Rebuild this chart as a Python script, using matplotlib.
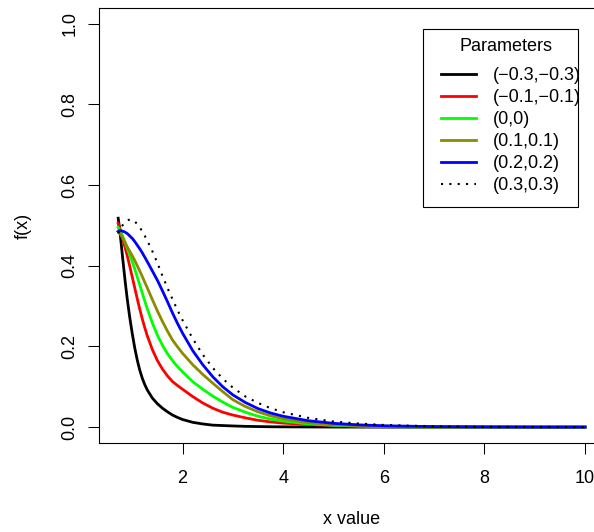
import matplotlib
matplotlib.use('Agg')
import matplotlib.pyplot as plt
from matplotlib.lines import Line2D
from matplotlib.patches import Rectangle
from matplotlib.legend_handler import HandlerLine2D

plt.rcParams['font.family'] = ['Liberation Sans', 'DejaVu Sans']

x_vals = [0.72, 0.74, 0.76, 0.78, 0.80, 0.83, 0.86, 0.90, 0.95, 1.0, 1.05, 1.1, 1.15, 1.2,
          1.25, 1.3, 1.4, 1.5, 1.6, 1.7, 1.8, 1.9, 2.0, 2.2, 2.4, 2.6, 2.8, 3.0, 3.25,
          3.5, 3.75, 4.0, 4.5, 5.0, 5.5, 6.0, 7.0, 8.0, 9.0, 10.0]

f_m03 = [0.518, 0.50, 0.478, 0.455, 0.43, 0.395, 0.36, 0.318, 0.272, 0.232, 0.196, 0.166,
         0.141, 0.121, 0.105, 0.092, 0.072, 0.058, 0.047, 0.038, 0.030, 0.024, 0.019,
         0.012, 0.008, 0.005, 0.004, 0.003, 0.002, 0.0015, 0.001, 0.0008, 0.0005, 0.0003,
         0.0002, 0.0001, 0.0, 0.0, 0.0, 0.0]
f_m01 = [0.505, 0.498, 0.49, 0.481, 0.472, 0.458, 0.444, 0.425, 0.399, 0.372, 0.345, 0.318,
         0.292, 0.268, 0.246, 0.226, 0.192, 0.165, 0.144, 0.127, 0.113, 0.103, 0.094,
         0.076, 0.060, 0.047, 0.037, 0.030, 0.023, 0.017, 0.013, 0.010, 0.0065, 0.0043,
         0.003, 0.002, 0.001, 0.0005, 0.0003, 0.0002]
f_00 = [0.495, 0.491, 0.487, 0.482, 0.476, 0.467, 0.457, 0.443, 0.427, 0.41, 0.392, 0.372,
        0.352, 0.332, 0.312, 0.293, 0.258, 0.228, 0.203, 0.182, 0.165, 0.15, 0.137,
        0.113, 0.094, 0.077, 0.062, 0.049, 0.037, 0.027, 0.020, 0.015, 0.008, 0.0045,
        0.0025, 0.0015, 0.0005, 0.0002, 0.0001, 0.0]
f_01 = [0.485, 0.482, 0.479, 0.475, 0.471, 0.464, 0.457, 0.447, 0.436, 0.425, 0.413, 0.40,
        0.387, 0.373, 0.359, 0.345, 0.316, 0.288, 0.262, 0.238, 0.216, 0.199, 0.183,
        0.155, 0.131, 0.109, 0.088, 0.068, 0.051, 0.038, 0.028, 0.021, 0.011, 0.006,
        0.0035, 0.002, 0.0008, 0.0003, 0.0001, 0.0]
f_02 = [0.485, 0.487, 0.487, 0.487, 0.486, 0.485, 0.483, 0.48, 0.474, 0.468, 0.46, 0.451,
        0.442, 0.432, 0.421, 0.41, 0.387, 0.364, 0.338, 0.311, 0.283, 0.257, 0.233,
        0.19, 0.155, 0.125, 0.10, 0.08, 0.061, 0.046, 0.035, 0.027, 0.016, 0.0095,
        0.0057, 0.0035, 0.0013, 0.0005, 0.0002, 0.0001]
f_03 = [0.48, 0.485, 0.49, 0.495, 0.499, 0.504, 0.508, 0.512, 0.515, 0.514, 0.51, 0.503,
        0.495, 0.485, 0.474, 0.462, 0.436, 0.407, 0.375, 0.345, 0.317, 0.29, 0.265,
        0.22, 0.18, 0.147, 0.12, 0.098, 0.076, 0.06, 0.047, 0.037, 0.023, 0.014,
        0.009, 0.0055, 0.002, 0.0008, 0.0003, 0.0001]

labels = ['(\u22120.3,\u22120.3)', '(\u22120.1,\u22120.1)', '(0,0)', '(0.1,0.1)', '(0.2,0.2)', '(0.3,0.3)']
colors = ['black', '#ff0000', '#00ff00', '#8b8b00', '#0000ff', 'black']
curves = [f_m03, f_m01, f_00, f_01, f_02, f_03]

x_ticks = [2, 4, 6, 8, 10]
y_ticks = [0.0, 0.2, 0.4, 0.6, 0.8, 1.0]


class ShiftedLine(HandlerLine2D):
    # legend line starts a little in from the left, like R's legend()
    def create_artists(self, legend, orig_handle, xdescent, ydescent, width, height, fontsize, trans):
        return HandlerLine2D.create_artists(self, legend, orig_handle, xdescent - 6.5, ydescent,
                                            width - 6.5, height, fontsize, trans)


fig = plt.figure(figsize=(5.94, 5.32), dpi=100)
# the plot region runs past the right edge of the picture, as in the original
ax = fig.add_axes([99.5 / 594, 1 - 443.3 / 532, 504.2 / 594, 435.7 / 532])

for i in range(len(curves)):
    if i == 5:
        ax.plot(x_vals, curves[i], color=colors[i], lw=1.5, linestyle=(0, (1, 3)),
                label=labels[i])
    else:
        ax.plot(x_vals, curves[i], color=colors[i], lw=2.0, label=labels[i])

xmin, xmax = x_vals[0], x_vals[-1]
ax.set_xlim(xmin - 0.04 * (xmax - xmin), xmax + 0.04 * (xmax - xmin))
ax.set_ylim(-0.04, 1.04)
ax.set_xticks(x_ticks)
ax.set_yticks(y_ticks)
ax.set_yticklabels(['%.1f' % v for v in y_ticks])

for s in ax.spines.values():
    s.set_linewidth(0.8)
    s.set_color('black')
ax.tick_params(axis='both', direction='out', length=7.7, width=0.75, labelsize=13)
ax.tick_params(axis='x', pad=11.3)
ax.tick_params(axis='y', pad=7.5, labelrotation=90)
for lab in ax.get_yticklabels():
    lab.set_va('center')

ax.text(0.5, -0.174, 'x value', transform=ax.transAxes, ha='center', va='center', fontsize=13)
ax.text(-0.152, 0.5, 'f(x)', transform=ax.transAxes, ha='center', va='center',
        rotation=90, fontsize=13)

leg = ax.legend(title='Parameters', loc='upper left', bbox_to_anchor=(423 / 594, 1 - 29.3 / 532),
                bbox_transform=fig.transFigure, borderaxespad=0, fontsize=13, title_fontsize=13,
                frameon=False, handlelength=2.45, handletextpad=0.92, labelspacing=0.28,
                borderpad=0.5, handler_map={Line2D: ShiftedLine()})
leg._legend_box.sep = 8.5  # gap under the title, in points
# R draws its legend box a bit narrower than the text, so the frame is drawn by hand
fig.add_artist(Rectangle((423 / 594, 1 - 207.3 / 532), 154.7 / 594, 178 / 532,
                         transform=fig.transFigure, fill=False, edgecolor='black', lw=0.8,
                         zorder=5))

fig.savefig('out.png', dpi=100)
